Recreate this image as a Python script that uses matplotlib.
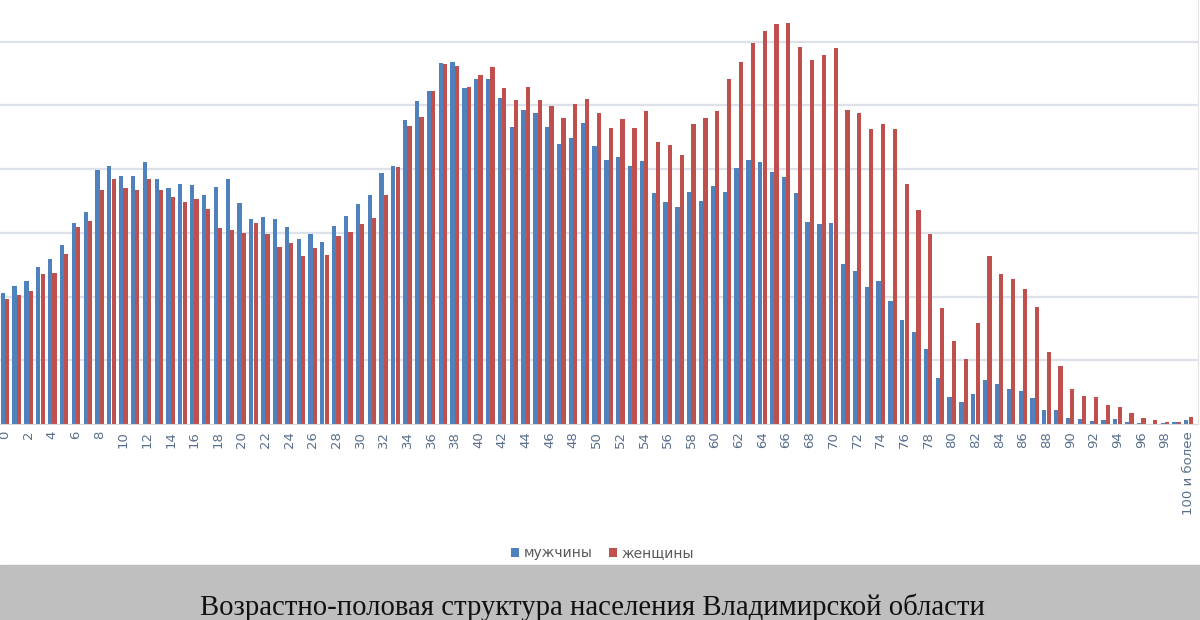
import numpy as np
import matplotlib.pyplot as plt
from matplotlib.patches import Rectangle

# age groups 0..99 and "100 и более"
ages = list(range(101))
tick_ages = list(range(0, 100, 2)) + [100]
tick_labels = [str(a) for a in range(0, 100, 2)] + ['100 и более']

# population, thousands of people
men = [4.12, 4.34, 4.49, 4.94, 5.17, 5.61, 6.32, 6.65, 7.97, 8.10,
       7.80, 7.80, 8.22, 7.68, 7.42, 7.54, 7.50, 7.19, 7.45, 7.68,
       6.93, 6.44, 6.49, 6.44, 6.19, 5.80, 5.97, 5.72, 6.23, 6.53,
       6.91, 7.19, 7.87, 8.10, 9.54, 10.14, 10.46, 11.32, 11.36, 10.54,
       10.82, 10.82, 10.23, 9.33, 9.86, 9.75, 9.33, 8.78, 8.97, 9.44,
       8.73, 8.29, 8.37, 8.10, 8.26, 7.24, 6.98, 6.80, 7.29, 7.01,
       7.48, 7.29, 8.03, 8.29, 8.22, 7.92, 7.76, 7.24, 6.35, 6.27,
       6.30, 5.02, 4.81, 4.31, 4.49, 3.86, 3.27, 2.88, 2.35, 1.43,
       0.84, 0.70, 0.93, 1.38, 1.24, 1.09, 1.04, 0.83, 0.44, 0.44,
       0.20, 0.16, 0.10, 0.13, 0.16, 0.07, 0.02, 0.01, 0.02, 0.05,
       0.13]
women = [3.92, 4.05, 4.17, 4.71, 4.73, 5.34, 6.18, 6.37, 7.35, 7.68,
         7.40, 7.33, 7.68, 7.33, 7.14, 6.98, 7.06, 6.75, 6.14, 6.09,
         6.01, 6.32, 5.97, 5.55, 5.67, 5.27, 5.52, 5.31, 5.90, 6.04,
         6.27, 6.48, 7.19, 8.08, 9.37, 9.65, 10.46, 11.29, 11.24, 10.57,
         10.94, 11.20, 10.54, 10.17, 10.57, 10.17, 9.98, 9.60, 10.05, 10.19,
         9.77, 9.30, 9.57, 9.28, 9.81, 8.86, 8.76, 8.45, 9.42, 9.62,
         9.81, 10.82, 11.36, 11.95, 12.34, 12.55, 12.60, 11.83, 11.43, 11.59,
         11.80, 9.86, 9.75, 9.25, 9.42, 9.25, 7.54, 6.72, 5.96, 3.63,
         2.62, 2.04, 3.18, 5.27, 4.70, 4.55, 4.23, 3.66, 2.27, 1.83,
         1.09, 0.89, 0.84, 0.60, 0.52, 0.34, 0.18, 0.13, 0.05, 0.05,
         0.21]

fig = plt.figure(figsize=(12, 6.2), dpi=100)
ax = fig.add_axes([0, 196 / 620, 1198 / 1200, 424 / 620])

x = np.arange(len(ages))
b1 = ax.bar(x - 0.185, men, width=0.36, color='#4f81bd', label='мужчины')
b2 = ax.bar(x + 0.185, women, width=0.36, color='#c0504d', label='женщины')

ax.set_xlim(-0.42, 100.8)
ax.set_ylim(0, 13.31)
ax.set_yticks(range(2, 14, 2))
ax.set_yticklabels([])
ax.tick_params(axis='y', length=0)
ax.yaxis.grid(True, color='#dde1ea', lw=1.6)
ax.set_axisbelow(True)

ax.set_xticks(tick_ages)
ax.set_xticklabels(tick_labels, rotation=90, fontsize=9.5, color='#5a6f8c')
ax.tick_params(axis='x', length=0, pad=5)

for s in ['top', 'left']:
    ax.spines[s].set_visible(False)
ax.spines['bottom'].set_color('#d9d9d9')
ax.spines['right'].set_color('#e3e3e3')

fig.legend(handles=[b1, b2], loc='center', bbox_to_anchor=(0.502, 0.108), ncol=2,
           frameon=False, fontsize=10, handlelength=0.6, handleheight=0.6,
           handletextpad=0.3, columnspacing=1.2, labelcolor='#595959')

# grey caption band
fig.patches.append(Rectangle((0, 0), 1, 55 / 620, transform=fig.transFigure,
                             color='#bfbfbf', zorder=0))
fig.text(0.494, 13 / 620, 'Возрастно-половая структура населения Владимирской области',
         family='Liberation Serif', fontsize=20.7, ha='center', va='center', color='#111111')

fig.savefig('out.png', dpi=100)
